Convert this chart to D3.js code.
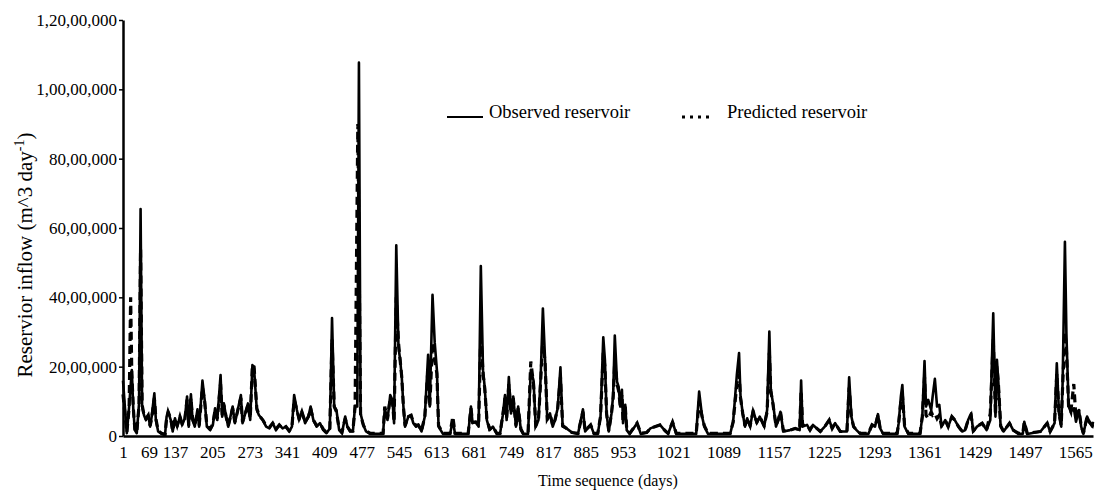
<!DOCTYPE html>
<html>
<head>
<meta charset="utf-8">
<script src="https://cdn.jsdelivr.net/npm/d3@7"></script>
<style>
  body { margin: 0; background: #fff; }
  text { font-family: "Liberation Serif", "Times New Roman", serif; fill: #000; }
</style>
</head>
<body>
<div id="chart"></div>
<script>
// inflow values are in lakh m^3/day (1 lakh = 1,00,000)
const observed = [
  [1,16],[11,0.8],[17,8.5],[24,19],[28,7.5],[32,1.7],[37,0.8],[43,9.4],[47,65.5],[51,8.5],
  [56,6],[61,4.6],[67,6],[72,2.7],[76,5.6],[83,12.3],[87,4.6],[93,1.3],[102,0.6],[111,0.3],
  [115,5.6],[119,7],[126,4.6],[131,1.3],[137,5.1],[141,2.7],[146,5.6],[150,3.2],[155,5.1],[159,11.4],
  [162,2.7],[166,12],[169,4.6],[173,2.7],[178,7.7],[181,2.7],[187,16],[191,10.4],[195,2.7],[201,1.7],
  [206,3.2],[210,8],[214,4.6],[220,17.6],[223,5.6],[226,9.4],[230,5.6],[234,2.7],[242,8.5],[246,3.7],
  [250,6.5],[257,11.8],[260,3.7],[265,6.5],[270,9.4],[274,4.6],[278,20.5],[281,19.5],[286,7.5],[290,6],
  [297,4.6],[303,2.7],[309,2.2],[315,3.7],[321,1.7],[327,3.2],[333,2.2],[339,2.7],[345,1.3],[350,2.7],
  [354,11.8],[359,7.5],[363,4.6],[368,7],[374,3.7],[380,5.6],[384,8.5],[389,4.6],[395,2.7],[401,3.7],
  [407,1.7],[413,0.8],[419,2.2],[423,34],[427,8.5],[431,7.5],[436,1.7],[441,0.8],[447,5.6],[451,2.7],
  [456,1.3],[461,1.3],[465,8.7],[469,8.5],[472,107.7],[475,6.5],[480,3.2],[485,1.3],[492,0.6],[503,0.6],
  [516,0.6],[519,8],[524,4.6],[529,11.8],[533,10.4],[536,3.7],[540,55],[544,25.8],[547,22],[550,17],
  [553,8.5],[556,2.7],[562,5.6],[567,6],[571,3.7],[576,2.7],[580,3.2],[586,1.3],[592,5.6],[598,23.4],
  [601,8.5],[606,40.7],[610,27],[614,19],[617,2.7],[625,0.6],[638,0.6],[643,4.6],[647,0.6],[660,0.6],
  [671,0.6],[676,8.5],[679,3.7],[685,4.1],[690,2.7],[694,49],[698,19],[701,14.2],[705,4.6],[710,1.7],
  [716,2.7],[723,0.6],[729,0.6],[734,6],[738,11.8],[741,4.6],[745,17],[749,6.5],[753,11.4],[758,2.7],
  [762,8.5],[767,1.7],[771,0.6],[780,0.6],[785,19],[790,16],[794,2.7],[799,4.6],[803,17],[807,36.8],
  [811,22],[815,4.6],[820,6.5],[825,2.7],[829,4.6],[834,8],[839,19.8],[843,2.7],[850,2.2],[860,1],
  [871,0.6],[880,7.7],[884,1.3],[894,3.2],[900,0.6],[907,0.6],[912,5.6],[917,28.5],[920,22],[923,6.5],
  [927,1.3],[932,6.5],[935,11.8],[938,29],[942,15.7],[945,14.2],[948,8.5],[951,13.3],[953,3.7],[956,9],
  [958,1.7],[962,0.6],[972,3.7],[977,0.6],[985,1],[990,2.2],[996,2.7],[1003,3.2],[1010,1.5],[1014,0.6],
  [1020,4.1],[1025,0.6],[1037,0.6],[1052,0.6],[1056,12.8],[1060,5.6],[1063,2.7],[1068,0.6],[1082,0.6],[1098,0.6],
  [1102,4.1],[1107,17.6],[1110,23.9],[1112,11.4],[1115,6.5],[1118,2.7],[1121,5.1],[1125,2.7],[1129,7.5],[1134,3.7],
  [1138,5.6],[1144,2.7],[1148,7.5],[1151,30.1],[1153,13.3],[1156,9.4],[1160,2.7],[1163,4.6],[1166,7],[1170,1.3],
  [1179,1.7],[1186,2.2],[1192,1.7],[1194,16],[1196,2.7],[1202,3.2],[1206,1.7],[1210,3.2],[1220,1.3],[1226,2.7],
  [1232,4.6],[1236,2.2],[1240,3.7],[1247,1.3],[1256,1.3],[1259,16.9],[1262,5.6],[1265,2.7],[1269,1.7],[1274,0.6],
  [1285,0.6],[1290,3.2],[1294,2.7],[1298,6.3],[1301,2.2],[1305,0.6],[1324,0.6],[1326,3.7],[1329,11.4],[1331,14.7],
  [1334,2.7],[1339,0.6],[1355,0.6],[1358,5.6],[1361,21.6],[1363,8.5],[1366,10.4],[1370,7.5],[1372,11.4],[1375,16.5],
  [1378,8.5],[1381,9],[1384,2.7],[1389,4.6],[1393,2.7],[1398,5.6],[1402,4.6],[1407,2.7],[1412,1.3],[1416,1.7],
  [1420,4.6],[1424,6.5],[1427,1.3],[1432,2.7],[1439,3.7],[1445,1.7],[1450,4.6],[1454,35.4],[1457,5.6],[1459,22],
  [1461,15.2],[1464,2.7],[1468,1.3],[1476,3.7],[1481,1.7],[1488,0.6],[1494,0.6],[1496,4.1],[1500,0.6],[1518,1.3],
  [1527,3.7],[1531,1.3],[1537,3.7],[1540,21],[1543,6.5],[1546,2.7],[1548,16.2],[1551,56],[1553,29.6],[1556,8.5],
  [1559,7],[1563,8],[1566,4.1],[1570,7.5],[1573,2.7],[1576,0.6],[1581,5.6],[1584,4.1],[1588,2.7],[1589,4.1]
];

const predicted = [
  [1,12],[11,1],[17,8],[21,40],[24,18],[28,8],[32,2],[37,1],[43,9],[47,54],[51,9],
  [56,6],[61,5],[67,6],[72,3],[76,5],[83,11],[87,5],[93,1.5],[102,0.8],[111,0.5],
  [115,5],[119,7],[126,5],[131,1.5],[137,5],[141,3],[146,5.6],[150,3.5],[155,5],[159,10.5],
  [162,3],[166,11],[169,5],[173,3],[178,7],[181,3],[187,14],[191,10],[195,3],[201,2],
  [206,3.5],[210,7.5],[214,5],[220,15],[223,6],[226,9],[230,5.6],[234,3],[242,8],[246,4],
  [250,6.5],[257,11],[260,4],[265,6.5],[270,9],[274,5],[278,20.5],[281,20],[286,8],[290,6],
  [297,4.6],[303,3],[309,2.5],[315,3.7],[321,2],[327,3.2],[333,2.2],[339,2.7],[345,1.5],[350,2.7],
  [354,10.5],[359,7.5],[363,5],[368,7],[374,4],[380,5.6],[384,8],[389,4.6],[395,3],[401,3.7],
  [407,2],[413,1],[419,2.2],[423,28],[427,8.5],[431,7],[436,2],[441,1],[447,5],[451,2.7],
  [456,1.5],[461,1.5],[465,8.5],[470,90],[475,6],[480,3.2],[485,1.5],[492,0.8],[503,0.8],
  [516,0.8],[519,8.5],[524,5],[529,11],[533,10],[536,4],[540,40],[544,27],[547,22],[550,17],
  [553,8.5],[556,3],[562,5.6],[567,6],[571,4],[576,3],[580,3.2],[586,1.5],[592,5.6],[598,20],
  [601,8.5],[606,27],[610,22],[614,18],[617,3],[625,0.8],[638,0.8],[643,5.6],[647,0.8],[660,0.8],
  [671,0.8],[676,8],[679,4],[685,4],[690,3],[694,30],[698,18],[701,14],[705,5],[710,2],
  [716,2.7],[723,0.8],[729,0.8],[734,6],[738,11],[741,5],[745,15],[749,6.5],[753,11],[758,3],
  [762,8],[767,2],[771,0.8],[780,0.8],[785,21.5],[790,15],[794,3],[799,4.6],[803,16],[807,28],
  [811,21],[815,5],[820,6.5],[825,3],[829,4.6],[834,8],[839,17],[843,3],[850,2.2],[860,1],
  [871,0.8],[880,7],[884,1.5],[894,3.2],[900,0.8],[907,0.8],[912,5.6],[917,24],[920,20],[923,6.5],
  [927,1.5],[932,6.5],[935,11],[938,22],[942,15],[945,13],[948,8.5],[951,12],[953,4],[956,8.5],
  [958,2],[962,0.8],[972,3.7],[977,0.8],[985,1],[990,2.2],[996,2.7],[1003,3.2],[1010,1.5],[1014,0.8],
  [1020,4],[1025,0.8],[1037,0.8],[1052,0.8],[1056,10],[1060,5.6],[1063,3],[1068,0.8],[1082,0.8],[1098,0.8],
  [1102,4],[1107,15],[1110,18],[1112,11],[1115,6.5],[1118,3],[1121,5],[1125,3],[1129,7],[1134,4],
  [1138,5.6],[1144,3],[1148,7],[1151,24],[1153,13],[1156,9],[1160,3],[1163,4.6],[1166,7],[1170,1.5],
  [1179,1.7],[1186,2.2],[1192,1.7],[1194,13],[1196,3],[1202,3.2],[1206,1.7],[1210,3.2],[1220,1.3],[1226,2.7],
  [1232,4.6],[1236,2.2],[1240,3.7],[1247,1.3],[1256,1.3],[1259,14],[1262,5.6],[1265,2.7],[1269,1.7],[1274,0.8],
  [1285,0.8],[1290,3.2],[1294,2.7],[1298,6],[1301,2.2],[1305,0.8],[1324,0.8],[1326,3.7],[1329,10],[1331,12],
  [1334,3],[1339,0.8],[1355,0.8],[1358,5.6],[1361,17],[1363,6],[1366,5],[1370,7],[1372,6],[1375,6.5],
  [1378,5],[1381,6],[1384,3],[1389,4.6],[1393,2.7],[1398,5.6],[1402,4.6],[1407,2.7],[1412,1.3],[1416,1.7],
  [1420,4.6],[1424,6],[1427,1.5],[1432,2.7],[1439,3.7],[1445,1.7],[1450,6.5],[1454,28],[1457,6],[1459,20],
  [1461,15],[1464,3],[1468,1.3],[1476,3.7],[1481,1.7],[1488,0.8],[1494,0.8],[1496,4],[1500,0.8],[1518,1.3],
  [1527,3.7],[1531,1.3],[1537,3.7],[1540,18],[1543,6.5],[1546,3],[1548,15],[1551,30],[1553,25],[1556,8.5],
  [1559,7],[1563,15],[1566,5],[1570,7.5],[1573,3],[1576,0.8],[1581,5.6],[1584,4],[1588,3],[1589,4]
];

const seriesNames = ["Observed reservoir", "Predicted reservoir"];
const xTicks = [1, 69, 137, 205, 273, 341, 409, 477, 545, 613, 681, 749, 817, 885, 953,
                1021, 1089, 1157, 1225, 1293, 1361, 1429, 1497, 1565];
const yTicks = [0, 2000000, 4000000, 6000000, 8000000, 10000000, 12000000];
const LAKH = 100000;

// Indian digit grouping, e.g. 1,20,00,000
function formatIndian(n) {
  const s = String(Math.round(n));
  if (s.length <= 3) return s;
  const rest = s.slice(0, -3).replace(/\B(?=(\d{2})+(?!\d))/g, ",");
  return rest + "," + s.slice(-3);
}

const dimensions = {
  width: 1099,
  height: 496,
  margin: {top: 20, right: 6, bottom: 60, left: 123},
};
dimensions.boundedWidth = dimensions.width - dimensions.margin.left - dimensions.margin.right;
dimensions.boundedHeight = dimensions.height - dimensions.margin.top - dimensions.margin.bottom;

const svg = d3.select("#chart")
  .append("svg")
  .attr("width", dimensions.width)
  .attr("height", dimensions.height);

const bounds = svg.append("g")
  .attr("transform", `translate(${dimensions.margin.left},${dimensions.margin.top})`);

// the day axis of the original is stretched unevenly, so use a piecewise scale
const W = dimensions.boundedWidth;
const xScale = d3.scaleLinear()
  .domain([1, 137, 953, 1589])
  .range([0, W * 0.0536, W * 0.5155, W]);

const yScale = d3.scaleLinear()
  .domain([0, 12000000])
  .range([dimensions.boundedHeight, 0]);

const lineGen = d3.line()
  .x(d => xScale(d[0]))
  .y(d => yScale(d[1] * LAKH));

bounds.append("path")
  .datum(observed)
  .attr("d", lineGen)
  .attr("fill", "none")
  .attr("stroke", "#000")
  .attr("stroke-width", 2.6)
  .attr("stroke-linejoin", "round");

bounds.append("path")
  .datum(predicted)
  .attr("d", lineGen)
  .attr("fill", "none")
  .attr("stroke", "#000")
  .attr("stroke-width", 3.2)
  .attr("stroke-dasharray", "8,5");

// y axis
const yAxis = bounds.append("g")
  .call(d3.axisLeft(yScale).tickValues(yTicks).tickFormat(formatIndian).tickSize(4).tickPadding(2).tickSizeOuter(0));
yAxis.select(".domain").attr("stroke-width", 2.5);
yAxis.selectAll(".tick line").attr("stroke-width", 1.5);
yAxis.selectAll("text")
  .style("font-family", '"Liberation Serif", serif')
  .style("font-size", "17px")
  .attr("fill", "#000");

// x axis
const xAxis = bounds.append("g")
  .attr("transform", `translate(0,${dimensions.boundedHeight})`)
  .call(d3.axisBottom(xScale).tickValues(xTicks).tickFormat(d3.format("d")).tickSize(0).tickPadding(10).tickSizeOuter(0));
xAxis.select(".domain").attr("stroke-width", 2.5);
xAxis.selectAll("text")
  .style("font-family", '"Liberation Serif", serif')
  .style("font-size", "17px")
  .attr("fill", "#000");

// axis titles
svg.append("text")
  .attr("x", dimensions.margin.left + W / 2)
  .attr("y", 486)
  .attr("text-anchor", "middle")
  .style("font-size", "16px")
  .text("Time sequence (days)");

const yTitle = svg.append("text")
  .attr("transform", `translate(32,255) rotate(-90)`)
  .attr("text-anchor", "middle")
  .style("font-size", "21px");
yTitle.append("tspan").text("Reservior inflow (m^3 day");
yTitle.append("tspan").attr("dy", -8).style("font-size", "14px").text("-1");
yTitle.append("tspan").attr("dy", 8).text(")");

// legend
const legend = svg.append("g");
legend.append("line")
  .attr("x1", 447).attr("x2", 483).attr("y1", 117).attr("y2", 117)
  .attr("stroke", "#000").attr("stroke-width", 2);
legend.append("text")
  .attr("x", 489).attr("y", 118)
  .style("font-size", "18.5px")
  .text(seriesNames[0]);
legend.append("line")
  .attr("x1", 682).attr("x2", 710).attr("y1", 117).attr("y2", 117)
  .attr("stroke", "#000").attr("stroke-width", 3)
  .attr("stroke-dasharray", "3,5");
legend.append("text")
  .attr("x", 727).attr("y", 118)
  .style("font-size", "18.5px")
  .text(seriesNames[1]);
</script>
</body>
</html>
